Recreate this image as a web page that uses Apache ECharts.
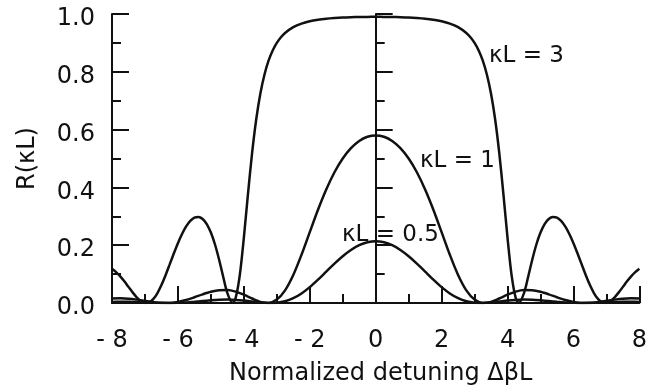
<!DOCTYPE html>
<html>
<head>
<meta charset="utf-8">
<script src="https://cdn.jsdelivr.net/npm/echarts@6/dist/echarts.min.js"></script>
<style>html,body{margin:0;padding:0;background:#fff;}#c{width:650px;height:391px;}</style>
</head>
<body>
<div id="c"></div>
<script>
// Detuning values (ΔβL) for κL = 1 and κL = 0.5
const xs = [-8,-7.75,-7.5,-7.25,-7,-6.75,-6.5,-6.25,-6,-5.75,-5.5,-5.25,-5,-4.75,-4.5,-4.25,-4,-3.75,-3.5,-3.25,-3,-2.75,-2.5,-2.25,-2,-1.75,-1.5,-1.25,-1,-0.75,-0.5,-0.25,0,0.25,0.5,0.75,1,1.25,1.5,1.75,2,2.25,2.5,2.75,3,3.25,3.5,3.75,4,4.25,4.5,4.75,5,5.25,5.5,5.75,6,6.25,6.5,6.75,7,7.25,7.5,7.75,8];
const r1 = [0.0155,0.0162,0.0149,0.0117,0.0075,0.0033,0.0005,0.0003,0.0037,0.0104,0.0197,0.0299,0.0387,0.0441,0.0446,0.0393,0.0289,0.0156,0.0039,0.0003,0.0117,0.0438,0.0971,0.1670,0.2451,0.3226,0.3927,0.4524,0.5000,0.5359,0.5607,0.5752,0.5800,0.5752,0.5607,0.5359,0.5000,0.4524,0.3927,0.3226,0.2451,0.1670,0.0971,0.0438,0.0117,0.0003,0.0039,0.0156,0.0289,0.0393,0.0446,0.0441,0.0387,0.0299,0.0197,0.0104,0.0037,0.0003,0.0005,0.0033,0.0075,0.0117,0.0149,0.0162,0.0155];
const r05 = [0.0038,0.0041,0.0039,0.0032,0.0021,0.0010,0.0002,0.0000,0.0006,0.0021,0.0043,0.0069,0.0093,0.0111,0.0117,0.0108,0.0085,0.0053,0.0021,0.0001,0.0010,0.0061,0.0167,0.0331,0.0549,0.0808,0.1087,0.1365,0.1620,0.1836,0.2000,0.2101,0.2136,0.2101,0.2000,0.1836,0.1620,0.1365,0.1087,0.0808,0.0549,0.0331,0.0167,0.0061,0.0010,0.0001,0.0021,0.0053,0.0085,0.0108,0.0117,0.0111,0.0093,0.0069,0.0043,0.0021,0.0006,0.0000,0.0002,0.0010,0.0021,0.0032,0.0039,0.0041,0.0038];
// Detuning values (ΔβL) for κL = 3 (denser near the sharp edges and side lobes)
const xs3 = [-8,-7.875,-7.75,-7.625,-7.5,-7.375,-7.25,-7.125,-6.98,-6.875,-6.75,-6.625,-6.5,-6.375,-6.25,-6.125,-6,-5.875,-5.75,-5.625,-5.5,-5.375,-5.25,-5.125,-5,-4.875,-4.75,-4.625,-4.5,-4.34,-4.25,-4.125,-4,-3.875,-3.75,-3.625,-3.5,-3.375,-3.25,-3.125,-3,-2.875,-2.75,-2.5,-2.25,-2,-1.75,-1.5,-1.25,-1,-0.75,-0.5,-0.25,0,0.25,0.5,0.75,1,1.25,1.5,1.75,2,2.25,2.5,2.75,2.875,3,3.125,3.25,3.375,3.5,3.625,3.75,3.875,4,4.125,4.25,4.34,4.5,4.625,4.75,4.875,5,5.125,5.25,5.375,5.5,5.625,5.75,5.875,6,6.125,6.25,6.375,6.5,6.625,6.75,6.875,6.98,7.125,7.25,7.375,7.5,7.625,7.75,7.875,8];
const r3 = [0.1184,0.1071,0.0923,0.0749,0.0558,0.0367,0.0197,0.0068,0,0.0022,0.0133,0.0337,0.0620,0.0961,0.1336,0.1713,0.2071,0.2388,0.2649,0.2841,0.2953,0.2978,0.2907,0.2731,0.2437,0.2024,0.1497,0.0902,0.0344,0,0.0167,0.0948,0.2255,0.3768,0.5184,0.6349,0.7240,0.7900,0.8384,0.8738,0.9000,0.9196,0.9343,0.9544,0.9668,0.9747,0.9799,0.9835,0.9859,0.9877,0.9888,0.9896,0.9900,0.9901,0.9900,0.9896,0.9888,0.9877,0.9859,0.9835,0.9799,0.9747,0.9668,0.9544,0.9343,0.9196,0.9000,0.8738,0.8384,0.7900,0.7240,0.6349,0.5184,0.3768,0.2255,0.0948,0.0167,0,0.0344,0.0902,0.1497,0.2024,0.2437,0.2731,0.2907,0.2978,0.2953,0.2841,0.2649,0.2388,0.2071,0.1713,0.1336,0.0961,0.0620,0.0337,0.0133,0.0022,0,0.0068,0.0197,0.0367,0.0558,0.0749,0.0923,0.1071,0.1184];
const xTicks = [-8,-6,-4,-2,0,2,4,6,8];
const yTicks = [0,0.2,0.4,0.6,0.8,1.0];
const curveLabels = ['κL = 3','κL = 1','κL = 0.5'];
const xTitle = 'Normalized detuning ΔβL';
const yTitle = 'R(κL)';

const FONT = 'DejaVu Sans';
const INK = '#111';
const chart = echarts.init(document.getElementById('c'), null, {renderer:'canvas'});

function lineSeries(x, y){
  return {
    type:'line', data: x.map((v,i)=>[v,y[i]]), showSymbol:false, smooth:0.3,
    lineStyle:{color:INK,width:2.5}, clip:true, silent:true, animation:false
  };
}
const tickStyle = {color:INK,width:2};

chart.setOption({
  animation:false,
  backgroundColor:'#fff',
  grid:{left:112,right:8,top:14,bottom:86},
  xAxis:{
    type:'value', min:xTicks[0], max:xTicks[xTicks.length-1], interval:2,
    axisLine:{show:true,onZero:false,lineStyle:tickStyle},
    axisTick:{show:true,inside:true,length:17,lineStyle:tickStyle},
    minorTick:{show:true,splitNumber:2,length:9,lineStyle:tickStyle},
    splitLine:{show:false},
    axisLabel:{fontFamily:FONT,fontSize:24,color:INK,margin:26,
      formatter:v=> v<0 ? '- '+(-v) : String(v)},
    name:xTitle, nameLocation:'middle', nameGap:59,
    nameTextStyle:{fontFamily:FONT,fontSize:24,color:INK,padding:[0,0,0,10]}
  },
  yAxis:[{
    type:'value', min:yTicks[0], max:yTicks[yTicks.length-1], interval:0.2, position:'left',
    axisLine:{show:true,onZero:false,lineStyle:tickStyle},
    axisTick:{show:true,inside:true,length:17,lineStyle:tickStyle},
    minorTick:{show:true,splitNumber:2,length:9,lineStyle:tickStyle},
    splitLine:{show:false},
    axisLabel:{margin:17,formatter:v=>'{t|'+v.toFixed(1)+'}',
      rich:{t:{fontFamily:FONT,fontSize:24,color:INK,padding:[10,0,0,0]}}},
    name:yTitle, nameLocation:'middle', nameGap:72,
    nameTextStyle:{fontFamily:FONT,fontSize:24,color:INK}
  },{
    type:'value', min:yTicks[0], max:yTicks[yTicks.length-1], interval:0.2, position:'left',
    axisLine:{show:true,onZero:true,lineStyle:tickStyle},
    axisTick:{show:true,inside:true,length:17,lineStyle:tickStyle},
    minorTick:{show:true,splitNumber:2,length:9,lineStyle:tickStyle},
    splitLine:{show:false},
    axisLabel:{show:false}
  }],
  graphic:[
    {type:'text',left:489,top:45,style:{text:curveLabels[0],font:'23px "DejaVu Sans"',fill:INK}},
    {type:'text',left:420,top:150,style:{text:curveLabels[1],font:'23px "DejaVu Sans"',fill:INK}},
    {type:'text',left:342,top:224,style:{text:curveLabels[2],font:'23px "DejaVu Sans"',fill:INK}}
  ],
  series:[lineSeries(xs3,r3),lineSeries(xs,r1),lineSeries(xs,r05)]
});
</script>
</body>
</html>
